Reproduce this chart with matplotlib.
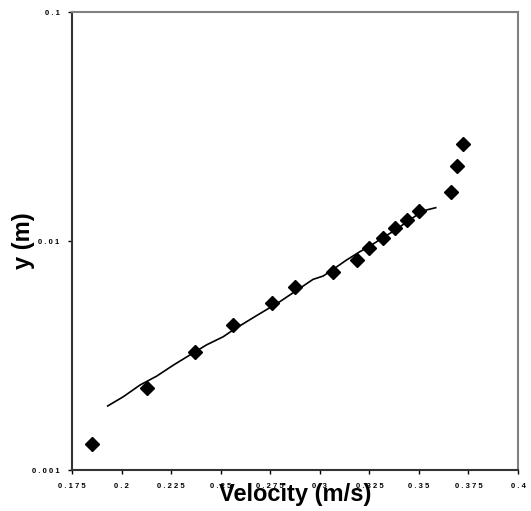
import numpy as np
import matplotlib.pyplot as plt

# measured velocity profile
vel = [0.1849, 0.2130, 0.2371, 0.2561, 0.2758, 0.2876, 0.3067, 0.3188,
       0.3249, 0.3321, 0.3382, 0.3440, 0.3503, 0.3664, 0.3694, 0.3721]
depth = [0.00130, 0.00229, 0.00328, 0.00430, 0.00536, 0.00628, 0.00732, 0.00826,
         0.00932, 0.01030, 0.01140, 0.01240, 0.01350, 0.01637, 0.02130, 0.02650]

# fitted curve (as drawn)
fit_vel = [0.1930, 0.2009, 0.2093, 0.2177, 0.2261, 0.2345, 0.2429, 0.2513,
           0.2563, 0.2677, 0.2798, 0.2966, 0.3017, 0.3067, 0.3135, 0.3202,
           0.3248, 0.3321, 0.3382, 0.3440, 0.3503, 0.3538, 0.3585]
fit_depth = [0.001904, 0.00209, 0.00235, 0.00257, 0.00287, 0.00318, 0.00352, 0.00382,
             0.00409, 0.00470, 0.00543, 0.00680, 0.00703, 0.00752, 0.00826, 0.00898,
             0.00944, 0.01038, 0.01117, 0.01214, 0.01321, 0.01366, 0.01398]

xticks = [0.175, 0.2, 0.225, 0.25, 0.275, 0.3, 0.325, 0.35, 0.375, 0.4]
xlabels = ["0 . 1 7 5", "0 . 2", "0 . 2 2 5", "0 . 2 5", "0 . 2 7 5", "0 . 3",
           "0 . 3 2 5", "0 . 3 5", "0 . 3 7 5", "0 . 4"]
yticks = [0.001, 0.01, 0.1]
ylabels = ["0 . 0 0 1", "0 . 0 1", "0 . 1"]

plt.rcParams['font.family'] = ['Liberation Sans', 'DejaVu Sans']

fig = plt.figure(figsize=(5.31, 5.11), dpi=100)
ax = fig.add_axes([0.1356, 0.0802, 0.8399, 0.8963])

ax.plot(fit_vel, fit_depth, color="black", lw=1.2)
ax.plot(vel, depth, linestyle="none", marker="D", color="black", markersize=7.5)

ax.set_yscale("log")
ax.set_xlim(0.175, 0.4)
ax.set_ylim(0.001, 0.1)

ax.set_xticks(xticks)
ax.set_xticklabels(xlabels, fontsize=5.5, fontweight="bold")
ax.set_yticks(yticks)
ax.set_yticklabels(ylabels, fontsize=5.5, fontweight="bold")
ax.yaxis.set_minor_locator(plt.NullLocator())
ax.tick_params(length=3, width=1, pad=6)

for s in ["left", "bottom"]:
    ax.spines[s].set_color("#333333")
    ax.spines[s].set_linewidth(1.5)
for s in ["top", "right"]:
    ax.spines[s].set_color("#808080")
    ax.spines[s].set_linewidth(1.5)

ax.set_xlabel("Velocity (m/s)", fontsize=17, fontweight="bold", labelpad=-5)
ax.set_ylabel("y (m)", fontsize=17, fontweight="bold", labelpad=-2)

fig.savefig("out.png", dpi=100)
